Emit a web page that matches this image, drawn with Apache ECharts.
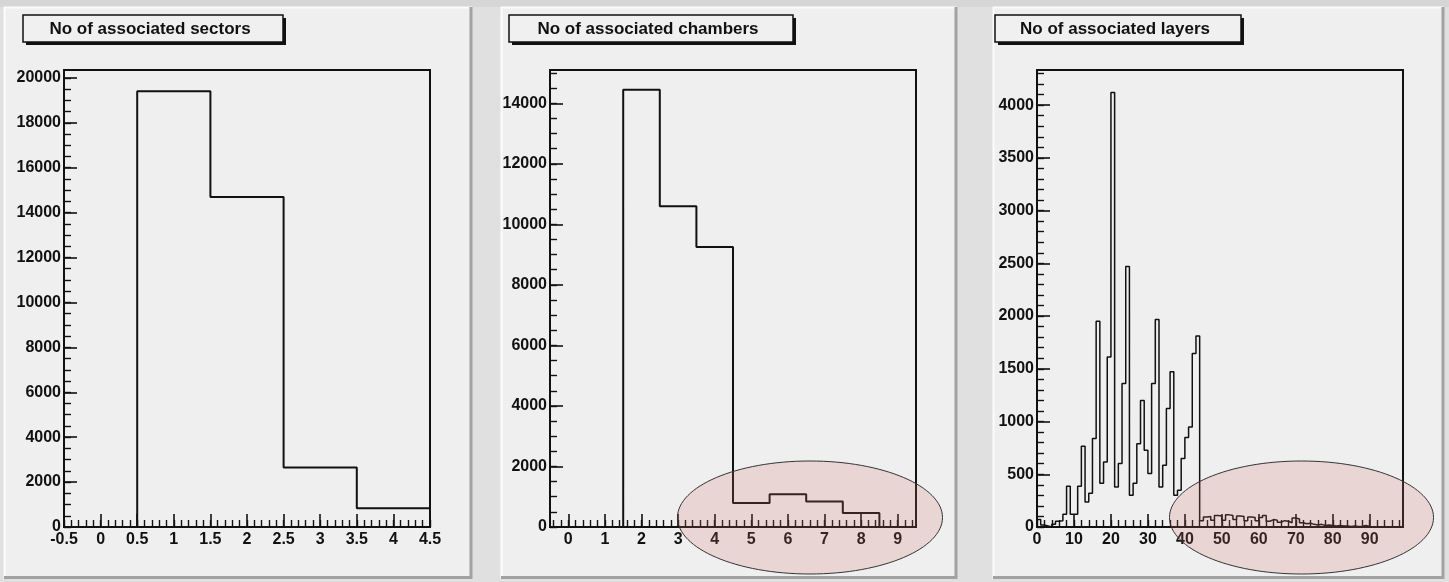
<!DOCTYPE html>
<html>
<head>
<meta charset="utf-8">
<script src="https://cdn.jsdelivr.net/npm/echarts@6/dist/echarts.min.js"></script>
<style>
html, body { margin: 0; padding: 0; background: #e0e0e0; }
#c { width: 1449px; height: 582px; }
</style>
</head>
<body>
<div id="c"></div>
<script>
// ---- No of associated sectors (bins of width 1, centred on 0..4) ----
const sectorTitle = 'No of associated sectors';
const sectorCounts = [0, 19400, 14700, 2650, 830];
const sectorXTicks = [-0.5, 0, 0.5, 1, 1.5, 2, 2.5, 3, 3.5, 4, 4.5];
const sectorYTicks = [0, 2000, 4000, 6000, 8000, 10000, 12000, 14000, 16000, 18000, 20000];

// ---- No of associated chambers (bins centred on 0..9) ----
const chamberTitle = 'No of associated chambers';
const chamberCounts = [0, 0, 14450, 10600, 9250, 790, 1080, 840, 460, 0];
const chamberXTicks = [0, 1, 2, 3, 4, 5, 6, 7, 8, 9];
const chamberYTicks = [0, 2000, 4000, 6000, 8000, 10000, 12000, 14000];

// ---- No of associated layers (bins of width 1 from 0 to 99) ----
const layerTitle = 'No of associated layers';
const layerCounts = [
  70, 20, 10, 0, 25, 55, 60, 120, 386, 120,
  120, 386, 766, 237, 320, 839, 1950, 414, 617, 1613,
  4120, 380, 601, 1361, 2470, 300, 414, 790, 1200, 728,
  507, 1361, 1968, 380, 585, 1124, 1471, 301, 348, 649,
  848, 949, 1645, 1810, 60, 95, 100, 65, 110, 105,
  65, 115, 110, 70, 105, 100, 60, 95, 90, 60,
  90, 110, 55, 70, 65, 45, 60, 55, 40, 85,
  75, 40, 30, 35, 25, 20, 25, 15, 20, 15,
  10, 15, 10, 10, 5, 10, 5, 8, 15, 5,
  3, 2, 0, 2, 0, 0, 1, 0, 0
];
const layerXTicks = [0, 10, 20, 30, 40, 50, 60, 70, 80, 90];
const layerYTicks = [0, 500, 1000, 1500, 2000, 2500, 3000, 3500, 4000];

// Step outline of a histogram: rises from the baseline, walks every bin edge, returns to it.
function outline(lo, width, counts) {
  const pts = [[lo, 0]];
  counts.forEach((c, i) => {
    pts.push([lo + i * width, c], [lo + (i + 1) * width, c]);
  });
  pts.push([lo + counts.length * width, 0]);
  return pts;
}

function steps(from, to, step) {
  const out = [];
  for (let v = from; v <= to + step * 1e-6; v += step) out.push(Math.round(v * 1000) / 1000);
  return out;
}

const INK = '#111';
const FONT = 'Liberation Sans';

const pads = [
  { title: sectorTitle, counts: sectorCounts, lo: -0.5, xmin: -0.5, xmax: 4.5, ymax: 20350, lw: 2,
    xTicks: sectorXTicks, xMinor: steps(-0.5, 4.5, 0.1), yTicks: sectorYTicks, yMinor: steps(0, 20000, 500),
    left: 64, box: [23, 15, 260, 27] },
  { title: chamberTitle, counts: chamberCounts, lo: -0.5, xmin: -0.5, xmax: 9.5, ymax: 15100, lw: 2,
    xTicks: chamberXTicks, xMinor: steps(-0.4, 9.4, 0.2), yTicks: chamberYTicks, yMinor: steps(0, 15000, 500),
    left: 550, box: [509, 15, 284, 27] },
  { title: layerTitle, counts: layerCounts, lo: 0, xmin: 0, xmax: 99, ymax: 4333, lw: 1.5,
    xTicks: layerXTicks, xMinor: steps(0, 98, 2), yTicks: layerYTicks, yMinor: steps(0, 4300, 100),
    left: 1037, box: [995, 15, 246, 27] }
];

const grid = [], xAxis = [], yAxis = [], series = [], graphic = [];
const padRects = [[4, 7, 468, 572], [501, 7, 456, 572], [993, 7, 451, 572]];

// top strip of the canvas
graphic.push({ type: 'rect', z: -11, shape: { x: 0, y: 0, width: 1449, height: 7 }, style: { fill: '#d6d6d6' } });

padRects.forEach(([x, y, w, h]) => {
  graphic.push({ type: 'rect', z: -10, shape: { x: x, y: y, width: w, height: h },
    style: { fill: '#efefef', stroke: null } });
  graphic.push({ type: 'polyline', z: -9, shape: { points: [[x + 0.5, y + h], [x + 0.5, y + 0.5], [x + w, y + 0.5]] },
    style: { stroke: '#fbfbfb', lineWidth: 2, fill: null } });
  graphic.push({ type: 'polyline', z: -9, shape: { points: [[x + w - 1, y], [x + w - 1, y + h - 1.5], [x, y + h - 1.5]] },
    style: { stroke: '#a2a2a2', lineWidth: 3, fill: null } });
});

pads.forEach((p, i) => {
  grid.push({ left: p.left, top: 70, width: 366, height: 457, show: true,
    borderColor: INK, borderWidth: 2, backgroundColor: 'transparent' });

  const labelStyle = { color: INK, fontFamily: FONT, fontWeight: 'bold', fontSize: 16 };
  xAxis.push({
    gridIndex: i, type: 'value', position: 'bottom', min: p.xmin, max: p.xmax,
    axisLine: { show: true, onZero: false, lineStyle: { color: INK, width: 2 } },
    axisTick: { show: true, inside: true, length: 13, customValues: p.xTicks, lineStyle: { color: INK, width: 1.6 } },
    axisLabel: Object.assign({ customValues: p.xTicks, margin: 5, formatter: v => String(v) }, labelStyle),
    splitLine: { show: false }
  });
  xAxis.push({
    gridIndex: i, type: 'value', position: 'bottom', min: p.xmin, max: p.xmax,
    axisLine: { show: false, onZero: false },
    axisTick: { show: true, inside: true, length: 7, customValues: p.xMinor, lineStyle: { color: INK, width: 1.4 } },
    axisLabel: { show: false }, splitLine: { show: false }
  });
  yAxis.push({
    gridIndex: i, type: 'value', position: 'left', min: 0, max: p.ymax,
    axisLine: { show: true, onZero: false, lineStyle: { color: INK, width: 2 } },
    axisTick: { show: true, inside: true, length: 13, customValues: p.yTicks, lineStyle: { color: INK, width: 1.6 } },
    axisLabel: Object.assign({ customValues: p.yTicks, margin: 3, formatter: v => String(v) }, labelStyle),
    splitLine: { show: false }
  });
  yAxis.push({
    gridIndex: i, type: 'value', position: 'left', min: 0, max: p.ymax,
    axisLine: { show: false, onZero: false },
    axisTick: { show: true, inside: true, length: 7, customValues: p.yMinor, lineStyle: { color: INK, width: 1.4 } },
    axisLabel: { show: false }, splitLine: { show: false }
  });

  series.push({
    type: 'line', xAxisIndex: 2 * i, yAxisIndex: 2 * i,
    data: outline(p.lo, 1, p.counts), symbol: 'none', clip: true,
    lineStyle: { color: INK, width: p.lw }, z: 5
  });

  // title box with drop shadow
  const [bx, by, bw, bh] = p.box;
  graphic.push({ type: 'rect', z: 40, shape: { x: bx + 3, y: by + 3, width: bw, height: bh },
    style: { fill: INK } });
  graphic.push({ type: 'rect', z: 41, shape: { x: bx, y: by, width: bw, height: bh },
    style: { fill: '#f0f0f0', stroke: INK, lineWidth: 1.5 } });
  graphic.push({ type: 'text', z: 42, x: bx + bw / 2 - 3, y: by + bh / 2 + 1,
    style: { text: p.title, fill: INK, font: 'bold 17px "' + FONT + '"', align: 'center', verticalAlign: 'middle' } });
});

// highlighted regions
graphic.push({ type: 'ellipse', z: 100, shape: { cx: 810, cy: 517.5, rx: 132.5, ry: 56.5 },
  style: { fill: 'rgba(215,110,110,0.2)', stroke: '#333', lineWidth: 1 } });
graphic.push({ type: 'ellipse', z: 100, shape: { cx: 1301.5, cy: 517.5, rx: 132, ry: 56.5 },
  style: { fill: 'rgba(215,110,110,0.2)', stroke: '#333', lineWidth: 1 } });

const chart = echarts.init(document.getElementById('c'), null, { renderer: 'canvas' });
chart.setOption({
  animation: false,
  backgroundColor: '#e0e0e0',
  grid: grid, xAxis: xAxis, yAxis: yAxis, series: series, graphic: graphic
});
</script>
</body>
</html>
